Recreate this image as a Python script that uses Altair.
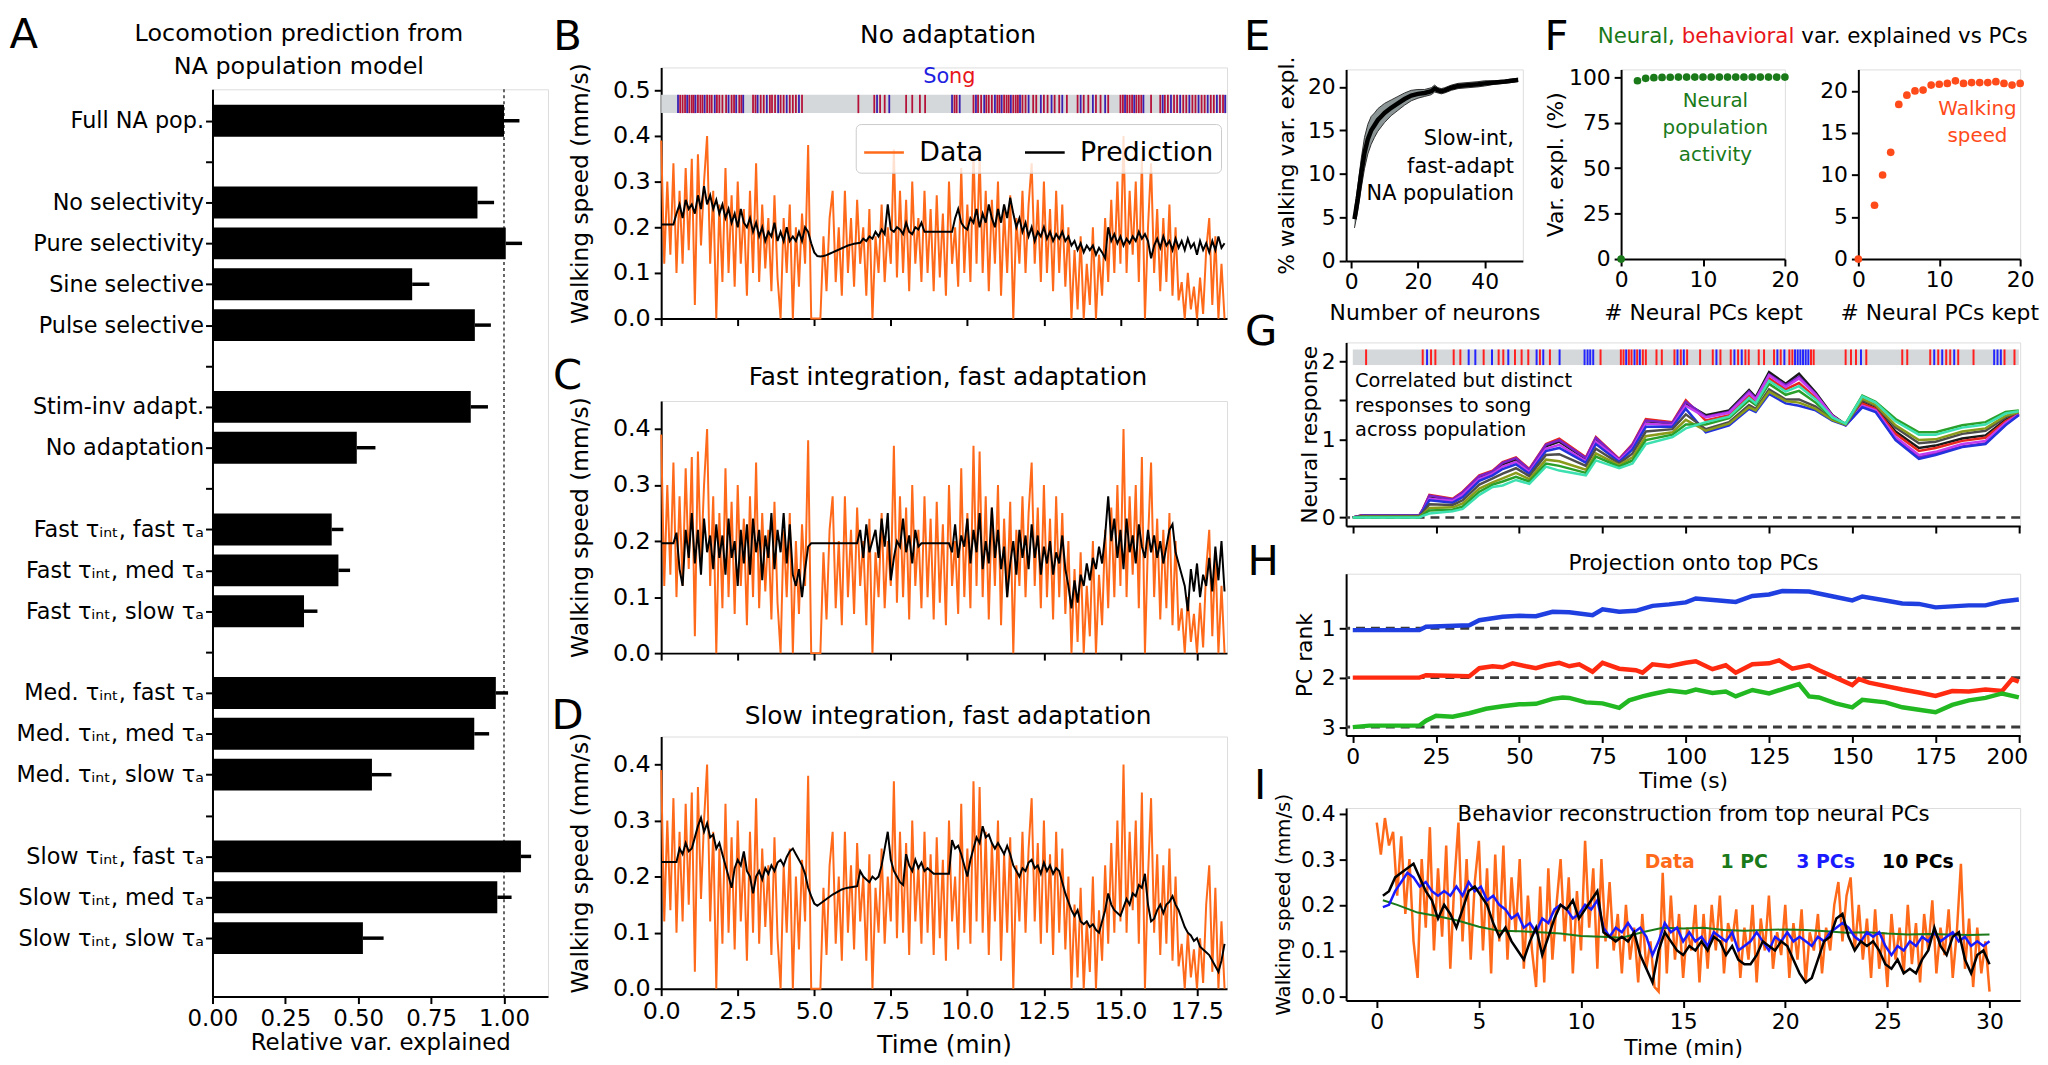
import json
import altair as alt
import pandas as pd

FONT = "DejaVu Sans"
ORANGE = "#ff6a1a"
GREEN = "#1a7a1a"
RED_F = "#ff4a1a"
BAND_GREY = "#d5d8da"

# ---------------- Panel A ----------------
A_LABELS = ["Full NA pop.", "No selectivity", "Pure selectivity", "Sine selective", "Pulse selective",
            "Stim-inv adapt.", "No adaptation",
            "Fast τᵢₙₜ, fast τₐ", "Fast τᵢₙₜ, med τₐ", "Fast τᵢₙₜ, slow τₐ",
            "Med. τᵢₙₜ, fast τₐ", "Med. τᵢₙₜ, med τₐ", "Med. τᵢₙₜ, slow τₐ",
            "Slow τᵢₙₜ, fast τₐ", "Slow τᵢₙₜ, med τₐ", "Slow τᵢₙₜ, slow τₐ"]
A_ROWS = [0, 2, 3, 4, 5, 7, 8, 10, 11, 12, 14, 15, 16, 18, 19, 20]
A_VALUES = [1.0, 0.909, 1.006, 0.685, 0.90, 0.886, 0.495, 0.409, 0.432, 0.314,
            0.972, 0.898, 0.547, 1.058, 0.977, 0.516]
A_ERR_HI = [1.053, 0.966, 1.062, 0.744, 0.955, 0.945, 0.559, 0.449, 0.472, 0.36,
            1.014, 0.949, 0.614, 1.093, 1.026, 0.587]

# ---------------- Panels B-D ----------------
T_MIN = [round(0.1 * i, 1) for i in range(185)]
SPEED = [0.39, 0.12, 0.30, 0.14, 0.34, 0.10, 0.28, 0.12, 0.33, 0.15,
         0.35, 0.03, 0.36, 0.16, 0.30, 0.40, 0.12, 0.28, 0.00, 0.25,
         0.08, 0.33, 0.10, 0.27, 0.07, 0.30, 0.12, 0.24, 0.05, 0.28,
         0.10, 0.34, 0.08, 0.25, 0.11, 0.22, 0.06, 0.27, 0.09, 0.00,
         0.22, 0.10, 0.25, 0.00, 0.20, 0.07, 0.23, 0.12, 0.38, 0.00,
         0.00, 0.00, 0.00, 0.18, 0.06, 0.22, 0.28, 0.08, 0.20, 0.05,
         0.28, 0.10, 0.22, 0.07, 0.26, 0.12, 0.20, 0.05, 0.24, 0.00,
         0.18, 0.10, 0.25, 0.08, 0.20, 0.12, 0.37, 0.09, 0.28, 0.10,
         0.26, 0.06, 0.30, 0.12, 0.22, 0.08, 0.28, 0.10, 0.24, 0.06,
         0.27, 0.09, 0.23, 0.05, 0.30, 0.12, 0.20, 0.07, 0.33, 0.10,
         0.25, 0.08, 0.37, 0.12, 0.36, 0.10, 0.28, 0.06, 0.26, 0.12,
         0.30, 0.05, 0.24, 0.10, 0.27, 0.00, 0.22, 0.12, 0.28, 0.10,
         0.25, 0.34, 0.12, 0.26, 0.08, 0.30, 0.10, 0.24, 0.06, 0.28,
         0.10, 0.25, 0.07, 0.20, 0.00, 0.15, 0.02, 0.18, 0.00, 0.12,
         0.03, 0.20, 0.00, 0.14, 0.05, 0.22, 0.08, 0.26, 0.10, 0.30,
         0.12, 0.40, 0.10, 0.28, 0.14, 0.30, 0.08, 0.35, 0.00, 0.20,
         0.34, 0.10, 0.24, 0.06, 0.22, 0.08, 0.25, 0.05, 0.20, 0.04,
         0.08, 0.00, 0.10, 0.02, 0.07, 0.00, 0.09, 0.01, 0.15, 0.22,
         0.03, 0.18, 0.00, 0.12, 0.00]
PRED_NO_ADAPT = [0.206, 0.206, 0.206, 0.206, 0.206, 0.23, 0.25, 0.22, 0.26, 0.24,
                 0.25, 0.23, 0.27, 0.24, 0.29, 0.25, 0.27, 0.24, 0.26, 0.23,
                 0.25, 0.22, 0.24, 0.21, 0.23, 0.20, 0.24, 0.21, 0.20, 0.22,
                 0.19, 0.21, 0.18, 0.20, 0.17, 0.19, 0.18, 0.21, 0.17, 0.19,
                 0.17, 0.20, 0.17, 0.18, 0.17, 0.19, 0.17, 0.20, 0.19, 0.165,
                 0.145, 0.137, 0.136, 0.137, 0.139, 0.142, 0.145, 0.148, 0.151, 0.154,
                 0.157, 0.160, 0.162, 0.164, 0.165, 0.166, 0.175, 0.17, 0.18, 0.175,
                 0.19, 0.18, 0.195, 0.185, 0.25, 0.195, 0.19, 0.20, 0.195, 0.185,
                 0.21, 0.19, 0.185, 0.20, 0.195, 0.21, 0.19, 0.19, 0.19, 0.19,
                 0.19, 0.19, 0.19, 0.19, 0.19, 0.19, 0.22, 0.24, 0.21, 0.20,
                 0.195, 0.22, 0.21, 0.24, 0.20, 0.23, 0.21, 0.25, 0.22, 0.20,
                 0.24, 0.21, 0.25, 0.22, 0.265, 0.23, 0.20, 0.22, 0.19, 0.21,
                 0.18, 0.20, 0.17, 0.19, 0.18, 0.20, 0.175, 0.19, 0.17, 0.185,
                 0.175, 0.19, 0.17, 0.18, 0.16, 0.17, 0.15, 0.165, 0.145, 0.16,
                 0.15, 0.16, 0.14, 0.155, 0.145, 0.132, 0.20, 0.17, 0.185, 0.165,
                 0.18, 0.16, 0.175, 0.165, 0.18, 0.17, 0.19, 0.175, 0.185, 0.17,
                 0.132, 0.16, 0.175, 0.155, 0.18, 0.16, 0.17, 0.15, 0.175, 0.155,
                 0.17, 0.15, 0.175, 0.155, 0.165, 0.14, 0.17, 0.15, 0.165, 0.145,
                 0.17, 0.15, 0.18, 0.155, 0.165]
PRED_FAST_INT = [0.196, 0.196, 0.196, 0.196, 0.196, 0.215, 0.15, 0.12, 0.22, 0.17,
                 0.25, 0.16, 0.22, 0.14, 0.24, 0.18, 0.21, 0.15, 0.23, 0.17,
                 0.21, 0.14, 0.24, 0.17, 0.20, 0.12, 0.22, 0.16, 0.23, 0.14,
                 0.24, 0.18, 0.22, 0.13, 0.21, 0.17, 0.25, 0.15, 0.22, 0.18,
                 0.25, 0.16, 0.23, 0.14, 0.12, 0.15, 0.10, 0.15, 0.19, 0.196,
                 0.196, 0.196, 0.196, 0.196, 0.196, 0.196, 0.196, 0.196, 0.196, 0.196,
                 0.196, 0.196, 0.196, 0.196, 0.196, 0.22, 0.17, 0.23, 0.18, 0.20,
                 0.22, 0.17, 0.24, 0.19, 0.25, 0.13, 0.17, 0.20, 0.19, 0.24,
                 0.18, 0.21, 0.16, 0.22, 0.19, 0.196, 0.196, 0.196, 0.196, 0.196,
                 0.196, 0.196, 0.196, 0.196, 0.196, 0.18, 0.23, 0.17, 0.21, 0.19,
                 0.24, 0.16, 0.22, 0.18, 0.25, 0.15, 0.20, 0.16, 0.26, 0.17,
                 0.22, 0.15, 0.19, 0.10, 0.16, 0.20, 0.14, 0.22, 0.17, 0.21,
                 0.15, 0.23, 0.17, 0.21, 0.14, 0.19, 0.16, 0.20, 0.14, 0.18,
                 0.16, 0.21, 0.15, 0.12, 0.08, 0.13, 0.09, 0.14, 0.12, 0.16,
                 0.13, 0.17, 0.15, 0.19, 0.16, 0.21, 0.28, 0.20, 0.24, 0.17,
                 0.22, 0.15, 0.24, 0.18, 0.21, 0.16, 0.23, 0.19, 0.17, 0.22,
                 0.18, 0.21, 0.17, 0.20, 0.16, 0.19, 0.22, 0.23, 0.18, 0.16,
                 0.14, 0.12, 0.075, 0.15, 0.11, 0.16, 0.10, 0.14, 0.12, 0.17,
                 0.11, 0.19, 0.13, 0.20, 0.11]
PRED_SLOW_INT = [0.226, 0.226, 0.226, 0.226, 0.226, 0.226, 0.25, 0.24, 0.26, 0.245,
                 0.25, 0.27, 0.29, 0.305, 0.28, 0.295, 0.27, 0.275, 0.25, 0.26,
                 0.24, 0.22, 0.20, 0.18, 0.215, 0.23, 0.22, 0.245, 0.21, 0.20,
                 0.17, 0.20, 0.21, 0.195, 0.215, 0.205, 0.22, 0.21, 0.225, 0.23,
                 0.22, 0.235, 0.245, 0.25, 0.24, 0.23, 0.22, 0.205, 0.18, 0.165,
                 0.152, 0.148, 0.152, 0.156, 0.160, 0.164, 0.168, 0.171, 0.174, 0.177,
                 0.179, 0.18, 0.181, 0.182, 0.183, 0.21, 0.20, 0.195, 0.19, 0.20,
                 0.195, 0.20, 0.22, 0.25, 0.28, 0.23, 0.21, 0.20, 0.19, 0.185,
                 0.24, 0.22, 0.21, 0.23, 0.215, 0.225, 0.21, 0.215, 0.21, 0.205,
                 0.205, 0.205, 0.205, 0.205, 0.205, 0.265, 0.25, 0.255, 0.24, 0.22,
                 0.20, 0.23, 0.25, 0.27, 0.26, 0.29, 0.27, 0.275, 0.26, 0.25,
                 0.26, 0.25, 0.24, 0.255, 0.24, 0.22, 0.21, 0.20, 0.215, 0.21,
                 0.225, 0.23, 0.215, 0.22, 0.205, 0.225, 0.21, 0.22, 0.205, 0.215,
                 0.21, 0.19, 0.17, 0.155, 0.14, 0.13, 0.14, 0.12, 0.115, 0.12,
                 0.11, 0.115, 0.105, 0.10, 0.12, 0.14, 0.17, 0.15, 0.14, 0.135,
                 0.13, 0.145, 0.16, 0.15, 0.17, 0.165, 0.185, 0.18, 0.205, 0.15,
                 0.12, 0.125, 0.14, 0.15, 0.135, 0.15, 0.155, 0.165, 0.15, 0.14,
                 0.125, 0.11, 0.10, 0.095, 0.085, 0.09, 0.075, 0.07, 0.065, 0.06,
                 0.05, 0.04, 0.03, 0.05, 0.08]
SONG_B_PULSE = [0.62, 0.70, 0.78, 0.92, 1.00, 1.06, 1.20, 1.28, 1.35, 1.50, 1.58, 1.65, 1.82, 1.90,
                2.00, 2.12, 2.30, 2.38, 2.55, 2.62, 3.00, 3.08, 3.25, 3.35, 3.55, 3.62, 3.72, 3.90,
                4.00, 4.20, 4.30, 4.40, 4.60, 6.44, 6.96, 7.15, 7.30, 8.00, 8.20, 8.45, 8.62, 9.58,
                9.65, 10.20, 10.35, 10.45, 10.62, 10.70, 10.80, 10.98, 11.05, 11.20, 11.28, 11.35,
                11.50, 11.58, 11.65, 11.80, 11.90, 12.15, 12.25, 12.50, 12.62, 12.85, 13.00, 13.25,
                13.60, 13.80, 13.95, 14.20, 14.35, 14.60, 15.00, 15.08, 15.22, 15.30, 15.38, 15.52,
                15.60, 15.68, 16.00, 16.30, 16.45, 16.55, 16.75, 16.85, 17.05, 17.15, 17.35, 17.45,
                17.65, 17.75, 17.95, 18.05, 18.25, 18.35]
SONG_B_SINE = [0.55, 0.85, 1.12, 1.42, 1.75, 2.20, 2.45, 2.68, 3.15, 3.45, 3.82, 4.10, 4.50, 7.05,
               7.45, 9.50, 9.75, 10.28, 10.55, 10.90, 11.12, 11.42, 11.72, 12.00, 12.40, 12.75,
               13.10, 13.70, 14.10, 14.50, 15.15, 15.45, 15.75, 16.38, 16.65, 16.95, 17.25, 17.55,
               17.85, 18.15, 18.42]

# ---------------- Panel E ----------------
E_N = [1, 2, 3, 4, 5, 6, 7, 8, 9, 10, 12, 14, 16, 18, 20, 22, 24, 25, 26, 27, 28, 30, 32, 35, 38, 40, 43, 46, 48, 50]
E_MEAN = [4.8, 7.2, 10.0, 12.4, 14.0, 15.0, 15.6, 16.2, 16.6, 17.0, 17.6, 18.1, 18.6, 19.0, 19.2,
          19.3, 19.5, 19.8, 19.6, 19.5, 19.6, 19.9, 20.1, 20.2, 20.3, 20.4, 20.5, 20.6, 20.7, 20.8]
E_LO = [3.8, 5.8, 8.3, 10.6, 12.3, 13.4, 14.2, 14.9, 15.4, 15.9, 16.7, 17.3, 17.9, 18.4, 18.7,
        18.9, 19.1, 19.4, 19.3, 19.2, 19.3, 19.6, 19.8, 19.9, 20.0, 20.1, 20.3, 20.4, 20.5, 20.6]
E_HI = [5.8, 8.6, 11.7, 14.2, 15.7, 16.6, 17.0, 17.5, 17.8, 18.1, 18.5, 18.9, 19.3, 19.6, 19.7,
        19.7, 19.9, 20.2, 19.9, 19.8, 19.9, 20.2, 20.4, 20.5, 20.6, 20.7, 20.7, 20.8, 20.9, 21.0]

# ---------------- Panel F ----------------
F_PCS = [0, 2, 3, 4, 5, 6, 7, 8, 9, 10, 11, 12, 13, 14, 15, 16, 17, 18, 19, 20]
F_NEURAL = [0, 98.0, 99.3, 99.7, 99.8, 99.9, 100, 100, 100, 100, 100, 100, 100, 100, 100, 100, 100, 100, 100, 100]
F_BEHAV = [0, 6.4, 10.0, 12.7, 18.4, 19.5, 20.0, 20.1, 20.7, 20.8, 20.9, 21.2, 20.9, 21.0, 21.0,
           21.0, 21.1, 20.9, 20.7, 20.9]

# ---------------- Panel G ----------------
G_T = [0, 3, 20, 21, 23, 30, 33, 38, 42, 45, 49, 53, 58, 62, 70, 73, 80, 84, 88, 96,
       100, 106, 113, 119, 121, 125, 130, 134, 139, 144, 148, 153, 157, 163, 170, 175, 183, 190, 196, 200]
G_NEURONS = {
    "n1": [0, .03, .03, .09, .27, .22, .31, .52, .58, .68, .74, .60, .91, .97, .75, 1.0, .74, .92, 1.23, 1.20,
           1.46, 1.31, 1.37, 1.63, 1.54, 1.86, 1.71, 1.84, 1.60, 1.31, 1.19, 1.47, 1.40, 1.10, .89, .92, 1.01, 1.05, 1.25, 1.33],
    "n2": [0, .03, .03, .10, .29, .24, .33, .54, .60, .71, .77, .62, .94, 1.01, .77, 1.03, .75, .94, 1.26, 1.22,
           1.50, 1.24, 1.31, 1.56, 1.48, 1.78, 1.64, 1.72, 1.53, 1.29, 1.19, 1.46, 1.39, 1.07, .85, .89, .98, 1.02, 1.23, 1.33],
    "n3": [0, .03, .03, .10, .28, .23, .32, .53, .59, .70, .76, .61, .93, .99, .76, 1.02, .74, .93, 1.24, 1.21,
           1.48, 1.29, 1.35, 1.61, 1.52, 1.83, 1.69, 1.80, 1.58, 1.30, 1.18, 1.42, 1.36, 1.00, .77, .82, .91, .95, 1.19, 1.31],
    "n4": [0, .02, .02, .08, .24, .21, .29, .49, .56, .65, .71, .58, .88, .93, .72, .97, .73, .89, 1.20, 1.18,
           1.43, 1.28, 1.34, 1.59, 1.51, 1.82, 1.67, 1.78, 1.57, 1.30, 1.18, 1.43, 1.37, 1.03, .80, .84, .94, .98, 1.21, 1.32],
    "n5": [0, .02, .02, .08, .22, .19, .26, .47, .54, .62, .68, .56, .85, .89, .70, .94, .71, .87, 1.16, 1.16,
           1.39, 1.09, 1.18, 1.39, 1.35, 1.58, 1.46, 1.43, 1.37, 1.24, 1.18, 1.41, 1.35, .99, .75, .80, .90, .94, 1.18, 1.31],
    "n6": [0, .02, .02, .06, .17, .16, .22, .42, .50, .56, .63, .53, .80, .81, .66, .88, .69, .82, 1.10, 1.13,
           1.32, 1.13, 1.22, 1.44, 1.39, 1.64, 1.51, 1.51, 1.42, 1.25, 1.19, 1.50, 1.43, 1.15, .95, .97, 1.07, 1.11, 1.28, 1.35],
    "n7": [0, .01, .01, .04, .12, .13, .18, .37, .45, .50, .57, .49, .74, .72, .61, .82, .67, .77, 1.04, 1.09,
           1.25, 1.11, 1.20, 1.41, 1.37, 1.61, 1.49, 1.47, 1.39, 1.25, 1.19, 1.52, 1.44, 1.18, .99, 1.00, 1.10, 1.14, 1.30, 1.35],
    "n8": [0, 0, 0, .03, .09, .10, .14, .33, .42, .46, .52, .46, .69, .66, .57, .78, .65, .73, .99, 1.06,
           1.19, 1.19, 1.27, 1.50, 1.44, 1.71, 1.57, 1.62, 1.47, 1.27, 1.20, 1.56, 1.48, 1.26, 1.09, 1.09, 1.18, 1.22, 1.35, 1.37],
    "n9": [0, 0, 0, .02, .05, .08, .11, .29, .39, .41, .48, .43, .65, .60, .54, .73, .63, .69, .94, 1.03,
           1.14, 1.22, 1.29, 1.53, 1.46, 1.75, 1.61, 1.68, 1.51, 1.28, 1.20, 1.55, 1.47, 1.23, 1.06, 1.06, 1.15, 1.19, 1.33, 1.36],
}
G_COLORS = ["#1a1a1a", "#e8281e", "#7a22c8", "#c43cf0", "#2233dd", "#4d4d4d", "#8a9a1a", "#2aa02a", "#3de0b0"]
SONG_G_PULSE = [4.0, 21.0, 23.5, 24.8, 30.3, 32.3, 39.3, 43.8, 45.2, 48.7, 50.7, 52.7, 56.2, 59.2, 74.4,
                80.5, 81.3, 82.9, 83.7, 85.4, 87.1, 88.0, 91.2, 92.8, 96.6, 98.5, 100.4, 104.3, 108.1,
                110.4, 113.5, 115.7, 117.9, 118.9, 121.9, 123.5, 126.5, 128.5, 131.1, 132.0, 137.6,
                138.4, 148.0, 149.6, 151.1, 154.2, 165.0, 166.5, 173.4, 175.8, 178.2, 179.4, 181.8,
                186.4, 195.7, 198.7]
SONG_G_SINE = [22.3, 34.8, 36.8, 41.8, 46.7, 55.2, 57.2, 62.1, 69.6, 70.5, 71.3, 72.2, 82.1, 84.6, 86.2,
               97.5, 99.4, 109.2, 114.6, 116.8, 127.5, 129.6, 132.8, 133.6, 134.4, 135.2, 136.0, 136.8,
               152.6, 174.6, 177.0, 180.6, 192.6, 193.6, 194.6]

# ---------------- Panel H ----------------
H_T_PC1 = [0, 20, 22, 35, 38, 45, 50, 55, 60, 65, 72, 75, 80, 85, 90, 95, 100, 103, 110, 115, 120, 125,
           129, 137, 145, 150, 153, 160, 165, 170, 175, 180, 185, 190, 195, 200]
H_PC1 = [1.04, 1.04, 0.97, 0.94, 0.84, 0.77, 0.75, 0.76, 0.67, 0.68, 0.74, 0.62, 0.67, 0.65, 0.55, 0.52,
         0.48, 0.40, 0.44, 0.47, 0.35, 0.32, 0.25, 0.26, 0.37, 0.44, 0.36, 0.44, 0.50, 0.51, 0.58, 0.56,
         0.54, 0.54, 0.46, 0.42]
H_T_PC2 = [0, 20, 22, 35, 38, 42, 45, 48, 52, 55, 58, 62, 65, 68, 72, 75, 80, 85, 87, 90, 95, 100, 103,
           108, 112, 115, 120, 125, 128, 132, 137, 140, 145, 150, 152, 155, 165, 170, 175, 180, 185, 190,
           195, 198, 200]
H_PC2 = [2.0, 2.0, 1.95, 1.97, 1.81, 1.77, 1.79, 1.71, 1.77, 1.81, 1.75, 1.70, 1.77, 1.73, 1.88, 1.70,
         1.82, 1.85, 1.90, 1.73, 1.77, 1.70, 1.67, 1.83, 1.75, 1.90, 1.73, 1.71, 1.65, 1.82, 1.75, 1.85,
         2.0, 2.15, 2.03, 2.10, 2.24, 2.30, 2.37, 2.27, 2.28, 2.24, 2.27, 2.03, 2.08]
H_T_PC3 = [0, 5, 20, 22, 25, 30, 35, 40, 45, 50, 55, 60, 63, 65, 70, 75, 80, 83, 87, 90, 95, 100, 103,
           108, 112, 115, 120, 125, 130, 134, 137, 140, 145, 150, 153, 160, 165, 170, 175, 180, 185, 190,
           195, 200]
H_PC3 = [3.0, 2.97, 2.97, 2.87, 2.77, 2.79, 2.72, 2.63, 2.58, 2.54, 2.53, 2.43, 2.40, 2.41, 2.50, 2.52,
         2.61, 2.46, 2.38, 2.33, 2.26, 2.30, 2.24, 2.31, 2.28, 2.38, 2.25, 2.32, 2.21, 2.13, 2.38, 2.40,
         2.52, 2.60, 2.45, 2.50, 2.60, 2.65, 2.70, 2.55, 2.46, 2.41, 2.32, 2.40]

# ---------------- Panel I ----------------
I_T_DATA = [round(0.2 * i, 1) for i in range(151)]
I_DATA = [0.38, 0.31, 0.39, 0.33, 0.36, 0.22, 0.35, 0.18, 0.30, 0.12,
          0.04, 0.30, 0.15, 0.37, 0.10, 0.28, 0.13, 0.33, 0.06, 0.25,
          0.38, 0.12, 0.30, 0.08, 0.25, 0.34, 0.10, 0.28, 0.05, 0.31,
          0.12, 0.33, 0.08, 0.26, 0.14, 0.30, 0.06, 0.22, 0.10, 0.02,
          0.24, 0.03, 0.28, 0.08, 0.20, 0.30, 0.12, 0.26, 0.05, 0.23,
          0.10, 0.34, 0.15, 0.28, 0.06, 0.30, 0.12, 0.25, 0.10, 0.18,
          0.05, 0.20, 0.08, 0.15, 0.03, 0.18, 0.06, 0.12, 0.02, 0.01,
          0.27, 0.05, 0.22, 0.08, 0.18, 0.04, 0.15, 0.10, 0.20, 0.03,
          0.18, 0.06, 0.20, 0.10, 0.22, 0.05, 0.16, 0.12, 0.19, 0.04,
          0.15, 0.08, 0.20, 0.03, 0.17, 0.10, 0.22, 0.06, 0.14, 0.09,
          0.20, 0.04, 0.16, 0.08, 0.19, 0.03, 0.14, 0.10, 0.18, 0.05,
          0.15, 0.10, 0.20, 0.25, 0.12, 0.22, 0.26, 0.10, 0.20, 0.08,
          0.17, 0.04, 0.19, 0.06, 0.14, 0.02, 0.18, 0.08, 0.15, 0.05,
          0.20, 0.07, 0.16, 0.03, 0.18, 0.10, 0.21, 0.05, 0.15, 0.09,
          0.19, 0.04, 0.14, 0.29, 0.06, 0.17, 0.02, 0.15, 0.05, 0.12,
          0.01]
I_T_REC = [round(0.3 + 0.3 * i, 1) for i in range(100)]
I_3PC = [0.195, 0.20, 0.23, 0.25, 0.27, 0.26, 0.24, 0.25, 0.23, 0.22,
         0.23, 0.22, 0.24, 0.22, 0.25, 0.23, 0.24, 0.21, 0.22, 0.20,
         0.19, 0.17, 0.18, 0.15, 0.16, 0.14, 0.17, 0.16, 0.19, 0.20,
         0.19, 0.17, 0.18, 0.20, 0.19, 0.21, 0.15, 0.13, 0.15, 0.14,
         0.16, 0.14, 0.15, 0.13, 0.09, 0.12, 0.16, 0.14, 0.15, 0.12,
         0.14, 0.12, 0.13, 0.11, 0.14, 0.13, 0.12, 0.14, 0.10, 0.11,
         0.12, 0.14, 0.12, 0.10, 0.13, 0.12, 0.14, 0.12, 0.13, 0.12,
         0.11, 0.13, 0.12, 0.14, 0.15, 0.16, 0.15, 0.13, 0.12, 0.14,
         0.13, 0.14, 0.11, 0.09, 0.11, 0.10, 0.12, 0.11, 0.13, 0.12,
         0.14, 0.12, 0.13, 0.14, 0.12, 0.13, 0.11, 0.12, 0.11, 0.12]
I_10PC = [0.22, 0.23, 0.26, 0.27, 0.28, 0.29, 0.26, 0.23, 0.21, 0.17,
          0.20, 0.18, 0.15, 0.19, 0.23, 0.24, 0.22, 0.20, 0.16, 0.13,
          0.15, 0.12, 0.10, 0.08, 0.12, 0.15, 0.09, 0.13, 0.17, 0.20,
          0.19, 0.21, 0.17, 0.19, 0.21, 0.23, 0.14, 0.13, 0.12, 0.13,
          0.12, 0.14, 0.09, 0.06, 0.03, 0.10, 0.14, 0.12, 0.10, 0.09,
          0.11, 0.10, 0.12, 0.10, 0.13, 0.12, 0.09, 0.11, 0.08, 0.07,
          0.07, 0.09, 0.12, 0.11, 0.10, 0.12, 0.11, 0.08, 0.05, 0.03,
          0.04, 0.08, 0.12, 0.13, 0.17, 0.18, 0.13, 0.10, 0.12, 0.11,
          0.12, 0.10, 0.07, 0.06, 0.08, 0.05, 0.06, 0.05, 0.08, 0.10,
          0.15, 0.11, 0.09, 0.13, 0.14, 0.08, 0.05, 0.09, 0.10, 0.07]
I_T_1PC = [0.3, 1, 2, 3, 4, 5, 6, 7, 8, 9, 10, 11, 12, 13, 14, 15, 16, 17, 18, 19, 20, 21, 22, 23, 24, 25,
           26, 27, 28, 29, 30]
I_1PC = [0.21, 0.20, 0.183, 0.175, 0.165, 0.152, 0.143, 0.142, 0.140, 0.137, 0.132, 0.13, 0.128, 0.14,
         0.15, 0.148, 0.15, 0.145, 0.143, 0.145, 0.146, 0.145, 0.142, 0.139, 0.14, 0.137, 0.135, 0.136,
         0.135, 0.134, 0.135]


# ---------------- helpers ----------------
def axis(**kw):
    base = dict(domainColor="black", domainWidth=2, tickColor="black", tickWidth=2, tickSize=7,
                labelColor="black", titleColor="black", grid=False, labelFont=FONT, titleFont=FONT,
                titleFontWeight="normal", labelFlush=False, labelOverlap=False, labelPadding=4,
                labelLimit=400)
    base.update(kw)
    return alt.Axis(**base)


def text_layer(text, x, y, size, color="black", align="center", weight="normal"):
    return alt.Chart(pd.DataFrame({"t": [text]})).mark_text(
        align=align, baseline="middle", fontSize=size, color=color, fontWeight=weight, font=FONT
    ).encode(x=alt.value(x), y=alt.value(y), text="t:N")


def cell(L, T, R, B, W, H):
    # invisible frame that fixes the footprint of a panel in the concatenated layout
    return alt.Chart(pd.DataFrame({"z": [0]})).mark_rect(opacity=0).encode(
        x=alt.value(-L), x2=alt.value(W + R), y=alt.value(-T), y2=alt.value(H + B))


NO_VIEW = alt.ViewBackground(stroke="transparent", strokeWidth=0, strokeOpacity=0, fill="transparent",
                             fillOpacity=0, opacity=0)


def header(L, R, W, B=0, extra=()):
    # thin strip at the very top of a column: anchors the column's origin to the page top
    return alt.layer(cell(L, 0, R, B, W, 1), *extra).properties(width=W, height=1, view=NO_VIEW)


LETTER = 42

# ---------------- build A ----------------
dfA = pd.DataFrame({"row": A_ROWS, "label": A_LABELS, "value": A_VALUES, "hi": A_ERR_HI})
dfA["zero"] = 0.0
tick_names = [""] * 21
for r, l in zip(A_ROWS, A_LABELS):
    tick_names[r] = l
label_expr = json.dumps(tick_names, ensure_ascii=False) + "[datum.value]"
xA_sc = alt.Scale(domain=[0, 1.151], nice=False, zero=False)
yA_sc = alt.Scale(domain=[-0.77, 21.43], reverse=True, nice=False, zero=False)
xA_ax = axis(values=[0, 0.25, 0.5, 0.75, 1.0], format=".2f", labelFontSize=23,
             title="Relative var. explained", titleFontSize=23, titleY=46, titleBaseline="middle")
yA_ax = axis(values=list(range(21)), labelExpr=label_expr, labelFontSize=22.5, labelPadding=2, title=None)

barsA = alt.Chart(dfA).transform_calculate(
    y0="datum.row - 0.39", y1="datum.row + 0.39"
).mark_rect(color="black").encode(
    x=alt.X("zero:Q", scale=xA_sc, axis=xA_ax), x2="value:Q",
    y=alt.Y("y0:Q", scale=yA_sc, axis=yA_ax), y2="y1:Q")
errA = alt.Chart(dfA).mark_rule(color="black", strokeWidth=3.5).encode(
    x=alt.X("value:Q", scale=xA_sc, axis=xA_ax), x2="hi:Q",
    y=alt.Y("row:Q", scale=yA_sc, axis=yA_ax))
dotA = alt.Chart(pd.DataFrame({"value": [1.0]})).mark_rule(
    color="black", strokeWidth=1.2, strokeDash=[3, 3]).encode(x=alt.X("value:Q", scale=xA_sc, axis=xA_ax))
chartA = alt.layer(
    cell(205.3, 77, 0.7, 56, 338, 914),
    barsA, errA, dotA,
    text_layer("Locomotion prediction from", 87, -56, 24),
    text_layer("NA population model", 87, -22, 24),
    text_layer("A", -190, -55, LETTER),
).properties(width=338, height=914)

# ---------------- build B-D ----------------
color_sc = alt.Scale(domain=["Data", "Prediction"], range=[ORANGE, "black"])
x_sc_bd = alt.Scale(domain=[0, 18.48], nice=False, zero=False)


def speed_panel(pred, ymax, yvals, show_x, legend, title, title_y, letter, letter_y, height, frame):
    rows = []
    for t, d, p in zip(T_MIN, SPEED, pred):
        rows.append({"t": t, "value": d, "series": "Data"})
        rows.append({"t": t, "value": p, "series": "Prediction"})
    df = pd.DataFrame(rows)
    x_ax = axis(values=[0, 2.5, 5, 7.5, 10, 12.5, 15, 17.5], format=".1f", labels=show_x,
                labelFontSize=24, title=("Time (min)" if show_x else None), titleFontSize=25,
                titleY=56, titleBaseline="middle")
    y_sc = alt.Scale(domain=[0, ymax], nice=False, zero=False)
    y_ax = axis(values=yvals, format=".1f", labelFontSize=24, title="Walking speed (mm/s)",
                titleFontSize=23.5, titleX=-81, titleBaseline="middle")
    X = lambda f: alt.X(f, scale=x_sc_bd, axis=x_ax)
    Y = lambda f: alt.Y(f, scale=y_sc, axis=y_ax)
    data_line = alt.Chart(df).transform_filter("datum.series == 'Data'").mark_line(strokeWidth=2).encode(
        x=X("t:Q"), y=Y("value:Q"), color=alt.Color("series:N", scale=color_sc, legend=legend))
    pred_line = alt.Chart(df).transform_filter("datum.series == 'Prediction'").mark_line(strokeWidth=2).encode(
        x=X("t:Q"), y=Y("value:Q"), color=alt.Color("series:N", scale=color_sc, legend=legend))
    layers = [cell(*frame, 570, height), data_line, pred_line]
    if ymax > 0.5:
        band = alt.Chart(pd.DataFrame({"t": [0.0], "t2": [18.48], "value": [0.45], "value2": [0.49]})).mark_rect(
            color=BAND_GREY).encode(x=X("t:Q"), x2="t2:Q", y=Y("value:Q"), y2="value2:Q")
        pulse = alt.Chart(pd.DataFrame({"t": SONG_B_PULSE, "value": 0.45, "value2": 0.49})).mark_rule(
            color="#b5123a", strokeWidth=1.8).encode(x=X("t:Q"), y=Y("value:Q"), y2="value2:Q")
        sine = alt.Chart(pd.DataFrame({"t": SONG_B_SINE, "value": 0.45, "value2": 0.49})).mark_rule(
            color="#3a1fb0", strokeWidth=1.8).encode(x=X("t:Q"), y=Y("value:Q"), y2="value2:Q")
        layers = [layers[0], band, pulse, sine] + layers[1:]
        layers.append(text_layer("So", 264, 10, 21, color="#1f1fe0", align="left"))
        layers.append(text_layer("ng", 290, 10, 21, color="#e8161b", align="left"))
    layers.append(text_layer(title, 289, title_y, 25))
    layers.append(text_layer(letter, -94.4, letter_y, LETTER))
    return alt.layer(*layers).properties(width=570, height=height)


legendB = alt.Legend(orient="none", legendX=196, legendY=57, direction="horizontal", title=None,
                     symbolType="stroke", symbolSize=1600, symbolStrokeWidth=2.5, labelFontSize=27,
                     labelFont=FONT, labelColor="black", fillColor="rgba(255,255,255,0.8)",
                     strokeColor="#cccccc", cornerRadius=5, padding=7, columnPadding=36, labelOffset=14)

chartB = speed_panel(PRED_NO_ADAPT, 0.55, [0, 0.1, 0.2, 0.3, 0.4, 0.5], False, legendB,
                     "No adaptation", -33, "B", -31, 253, (109.4, 54, 8.6, 19))
chartC = speed_panel(PRED_FAST_INT, 0.45, [0, 0.1, 0.2, 0.3, 0.4], False, None,
                     "Fast integration, fast adaptation", -24, "C", -25, 254, (109.4, 62, 8.6, 24))
chartD = speed_panel(PRED_SLOW_INT, 0.45, [0, 0.1, 0.2, 0.3, 0.4], True, None,
                     "Slow integration, fast adaptation", -21, "D", -21, 254, (109.4, 58, 8.6, 68))

# ---------------- build E ----------------
dfE = pd.DataFrame({"n": E_N, "mean": E_MEAN, "lo": E_LO, "hi": E_HI})
xE_sc = alt.Scale(domain=[-1.5, 51.4], nice=False, zero=False)
yE_sc = alt.Scale(domain=[0, 22], nice=False, zero=False)
xE_ax = axis(values=[0, 20, 40], labelFontSize=22, title="Number of neurons", titleFontSize=22,
             titleY=52, titleBaseline="middle")
yE_ax = axis(values=[0, 5, 10, 15, 20], labelFontSize=22, title="% walking var. expl.", titleFontSize=22,
             titleX=-60, titleBaseline="middle")
XE = lambda f: alt.X(f, scale=xE_sc, axis=xE_ax)
YE = lambda f: alt.Y(f, scale=yE_sc, axis=yE_ax)
chartE = alt.layer(
    cell(109.5, 54, 19, 66, 178, 193),
    alt.Chart(dfE).mark_area(color="#8c9696").encode(x=XE("n:Q"), y=YE("lo:Q"), y2="hi:Q"),
    alt.Chart(dfE).mark_line(color="#333333", strokeWidth=1).encode(x=XE("n:Q"), y=YE("lo:Q")),
    alt.Chart(dfE).mark_line(color="#333333", strokeWidth=1).encode(x=XE("n:Q"), y=YE("hi:Q")),
    alt.Chart(dfE).mark_line(color="black", strokeWidth=4.5).encode(x=XE("n:Q"), y=YE("mean:Q")),
    text_layer("Slow-int,", 169, 70, 21, align="right"),
    text_layer("fast-adapt", 169, 98, 21, align="right"),
    text_layer("NA population", 169, 126, 21, align="right"),
    text_layer("E", -89.5, -33, LETTER),
).properties(width=178, height=193)

# ---------------- build F ----------------
dfF = pd.DataFrame({"pcs": F_PCS, "neural": F_NEURAL, "behav": F_BEHAV})
xF_sc = alt.Scale(domain=[0, 20], nice=False, zero=False)
xF_ax = axis(values=[0, 10, 20], labelFontSize=22, title="# Neural PCs kept", titleFontSize=22,
             titleY=54, titleBaseline="middle")
chartF1 = alt.layer(
    cell(78.5, 54, 25, 68, 165, 191),
    alt.Chart(dfF).mark_circle(size=60, color=GREEN, opacity=1).encode(
        x=alt.X("pcs:Q", scale=xF_sc, axis=xF_ax),
        y=alt.Y("neural:Q", scale=alt.Scale(domain=[0, 104.2], nice=False, zero=False),
                axis=axis(values=[0, 25, 50, 75, 100], labelFontSize=22, title="Var. expl. (%)",
                          titleFontSize=22, titleX=-66, titleBaseline="middle"))),
    text_layer("Neural", 95, 32, 20, color=GREEN),
    text_layer("population", 95, 59, 20, color=GREEN),
    text_layer("activity", 95, 86, 20, color=GREEN),
    text_layer("F", -65, -33, LETTER),
).properties(width=165, height=191)
chartF2 = alt.layer(
    cell(47, 54, 13, 68, 163, 191),
    alt.Chart(dfF).mark_circle(size=60, color=RED_F, opacity=1).encode(
        x=alt.X("pcs:Q", scale=xF_sc, axis=xF_ax),
        y=alt.Y("behav:Q", scale=alt.Scale(domain=[0, 22.56], nice=False, zero=False),
                axis=axis(values=[0, 5, 10, 15, 20], labelFontSize=22, title=None))),
    text_layer("Walking", 120, 40, 20, color=RED_F),
    text_layer("speed", 120, 67, 20, color=RED_F),
).properties(width=163, height=191)

# ---------------- build G ----------------
g_rows = []
for name, vals in G_NEURONS.items():
    for t, v in zip(G_T, vals):
        g_rows.append({"t": t, "value": v, "neuron": name})
dfG = pd.DataFrame(g_rows)
xGH_sc = alt.Scale(domain=[-2, 200.4], nice=False, zero=False)
xG_ax = axis(values=[0, 25, 50, 75, 100, 125, 150, 175, 200], labels=False, title=None)
yG_sc = alt.Scale(domain=[-0.11, 2.24], nice=False, zero=False)
yG_ax = axis(values=[0, 0.5, 1, 1.5, 2], labelExpr="datum.value % 1 === 0 ? format(datum.value, 'd') : ''",
             labelFontSize=22, title="Neural response", titleFontSize=22, titleX=-37, titleBaseline="middle")
XG = lambda f: alt.X(f, scale=xGH_sc, axis=xG_ax)
YG = lambda f: alt.Y(f, scale=yG_sc, axis=yG_ax)
chartG = alt.layer(
    cell(109.5, 48, 10, 10, 679, 185),
    alt.Chart(pd.DataFrame({"value": [0.0]})).mark_rule(color="#3a3a3a", strokeWidth=2.5, strokeDash=[9, 6]).encode(
        y=YG("value:Q")),
    alt.Chart(pd.DataFrame({"t": [0.0], "t2": [200.0], "value": [1.95], "value2": [2.15]})).mark_rect(
        color=BAND_GREY).encode(x=XG("t:Q"), x2="t2:Q", y=YG("value:Q"), y2="value2:Q"),
    alt.Chart(pd.DataFrame({"t": SONG_G_PULSE, "value": 1.95, "value2": 2.15})).mark_rule(
        color="#ff1f1f", strokeWidth=2).encode(x=XG("t:Q"), y=YG("value:Q"), y2="value2:Q"),
    alt.Chart(pd.DataFrame({"t": SONG_G_SINE, "value": 1.95, "value2": 2.15})).mark_rule(
        color="#2424ff", strokeWidth=2).encode(x=XG("t:Q"), y=YG("value:Q"), y2="value2:Q"),
    alt.Chart(dfG).mark_line(strokeWidth=2.5).encode(
        x=XG("t:Q"), y=YG("value:Q"),
        color=alt.Color("neuron:N", scale=alt.Scale(domain=list(G_NEURONS.keys()), range=G_COLORS), legend=None)),
    text_layer("Correlated but distinct", 9, 39, 19.5, align="left"),
    text_layer("responses to song", 9, 64, 19.5, align="left"),
    text_layer("across population", 9, 88, 19.5, align="left"),
    text_layer("G", -85.5, -10, LETTER),
).properties(width=679, height=185)

# ---------------- build H ----------------
xH_ax = axis(values=[0, 25, 50, 75, 100, 125, 150, 175, 200], format="d", labelFontSize=22,
             title="Time (s)", titleFontSize=22, titleY=45, titleBaseline="middle",
             labelFlush=3, labelFlushOffset=9)
yH_sc = alt.Scale(domain=[-0.1, 3.17], reverse=True, nice=False, zero=False)
yH_ax = axis(values=[1, 2, 3], format="d", labelFontSize=22, title="PC rank", titleFontSize=22,
             titleX=-42, titleBaseline="middle")
XH = lambda f: alt.X(f, scale=xGH_sc, axis=xH_ax)
YH = lambda f: alt.Y(f, scale=yH_sc, axis=yH_ax)
chartH = alt.layer(
    cell(109.5, 70, 10, 58, 679, 163),
    alt.Chart(pd.DataFrame({"value": [1, 2, 3]})).mark_rule(color="#3a3a3a", strokeWidth=3, strokeDash=[9, 6]).encode(
        y=YH("value:Q")),
    alt.Chart(pd.DataFrame({"t": H_T_PC1, "value": H_PC1})).mark_line(color="#1f3fe0", strokeWidth=4.5).encode(
        x=XH("t:Q"), y=YH("value:Q")),
    alt.Chart(pd.DataFrame({"t": H_T_PC2, "value": H_PC2})).mark_line(color="#ff2a10", strokeWidth=4.5).encode(
        x=XH("t:Q"), y=YH("value:Q")),
    alt.Chart(pd.DataFrame({"t": H_T_PC3, "value": H_PC3})).mark_line(color="#22b822", strokeWidth=4.5).encode(
        x=XH("t:Q"), y=YH("value:Q")),
    text_layer("Projection onto top PCs", 350, -11, 21.7),
    text_layer("H", -83.5, -12, LETTER),
).properties(width=679, height=163)

# ---------------- build I ----------------
xI_sc = alt.Scale(domain=[-1.5, 31.5], nice=False, zero=False)
yI_sc = alt.Scale(domain=[-0.0096, 0.412], nice=False, zero=False)
xI_ax = axis(values=[0, 5, 10, 15, 20, 25, 30], format="d", labelFontSize=22, title="Time (min)",
             titleFontSize=22, titleY=47, titleBaseline="middle")
yI_ax = axis(values=[0, 0.1, 0.2, 0.3, 0.4], format=".1f", labelFontSize=22, title="Walking speed (mm/s)",
             titleFontSize=20, titleX=-63, titleBaseline="middle")
XI = lambda f: alt.X(f, scale=xI_sc, axis=xI_ax)
YI = lambda f: alt.Y(f, scale=yI_sc, axis=yI_ax)
chartI = alt.layer(
    cell(109.5, 47, 10, 58, 679, 194),
    alt.Chart(pd.DataFrame({"t": I_T_DATA, "value": I_DATA})).mark_line(color=ORANGE, strokeWidth=2.5).encode(
        x=XI("t:Q"), y=YI("value:Q")),
    alt.Chart(pd.DataFrame({"t": I_T_1PC, "value": I_1PC})).mark_line(color=GREEN, strokeWidth=2).encode(
        x=XI("t:Q"), y=YI("value:Q")),
    alt.Chart(pd.DataFrame({"t": I_T_REC, "value": I_3PC})).mark_line(color="#1a1aff", strokeWidth=2.5).encode(
        x=XI("t:Q"), y=YI("value:Q")),
    alt.Chart(pd.DataFrame({"t": I_T_REC, "value": I_10PC})).mark_line(color="black", strokeWidth=2.5).encode(
        x=XI("t:Q"), y=YI("value:Q")),
    text_layer("Behavior reconstruction from top neural PCs", 350, 7, 21.4),
    text_layer("Data", 326, 54, 19, color=ORANGE, weight="bold"),
    text_layer("1 PC", 401, 54, 19, color=GREEN, weight="bold"),
    text_layer("3 PCs", 483, 54, 19, color="#1a1aff", weight="bold"),
    text_layer("10 PCs", 576, 54, 19, color="black", weight="bold"),
    text_layer("I", -86.5, -22, LETTER),
).properties(width=679, height=194)

# ---------------- layout ----------------
headA = header(205.3, 0.7, 338)
headB = header(109.4, 8.6, 570)
headR = header(109.5, 10, 679, B=36, extra=(
    text_layer("Neural,", 253.5, 25, 21.5, color=GREEN, align="left"),
    text_layer("behavioral", 338.1, 25, 21.5, color="#e8161b", align="left"),
    text_layer("var. explained vs PCs", 458.5, 25, 21.5, align="left"),
))

colA = alt.vconcat(headA, chartA, spacing=-1)
colBCD = alt.vconcat(headB, chartB, chartC, chartD, spacing=0).resolve_scale(color="independent")
rowEF = alt.hconcat(chartE, chartF1, chartF2, spacing=0).resolve_scale(color="independent")
colRight = alt.vconcat(headR, rowEF, chartG, chartH, chartI, spacing=-34).resolve_scale(color="independent")
chart = alt.hconcat(colA, colBCD, colRight, spacing=0, padding=0).resolve_scale(
    color="independent").configure_view(strokeWidth=0, strokeOpacity=0).configure(font=FONT)

chart.save("out.html", embed_options={"renderer": "svg", "actions": False})
